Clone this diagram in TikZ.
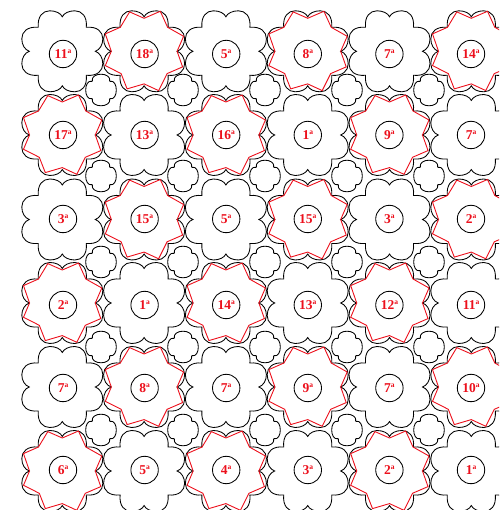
\documentclass[tikz,border=0pt]{standalone}
\usepackage{fontspec}
\setmainfont{Liberation Serif}
\newcommand{\bigflower}{
 (-24,24) .. controls (-25,35) and (-19.5,40.5) .. (-12.5,40.5) .. controls (-6.5,40.5) and (-1.5,38) .. (0,34.5)
 .. controls (1.5,38) and (6.5,40.5) .. (12.5,40.5) .. controls (19.5,40.5) and (25,35) .. (24,24)
 .. controls (35,25) and (40.5,19.5) .. (40.5,12.5) .. controls (40.5,6.5) and (37.5,1.5) .. (33,0)
 .. controls (37.5,-1.5) and (40.5,-6.5) .. (40.5,-12.5) .. controls (40.5,-19.5) and (35,-25) .. (24,-24)
 .. controls (25,-35) and (19.5,-40.5) .. (12.5,-40.5) .. controls (6.5,-40.5) and (1.5,-38) .. (0,-34.5)
 .. controls (-1.5,-38) and (-6.5,-40.5) .. (-12.5,-40.5) .. controls (-19.5,-40.5) and (-25,-35) .. (-24,-24)
 .. controls (-35,-25) and (-40.5,-19.5) .. (-40.5,-12.5) .. controls (-40.5,-6.5) and (-37.5,-1.5) .. (-33,0)
 .. controls (-37.5,1.5) and (-40.5,6.5) .. (-40.5,12.5) .. controls (-40.5,19.5) and (-35,25) .. (-24,24) -- cycle}
\newcommand{\smallflower}{
 (-8.7,8.7) .. controls (-9.8,13.2) and (-5,15.8) .. (0,15.8) .. controls (5,15.8) and (9.8,13.2) .. (8.7,8.7)
 .. controls (13.2,9.8) and (15.3,5) .. (15.3,0) .. controls (15.3,-5) and (13.2,-9.8) .. (8.7,-8.7)
 .. controls (9.8,-13.2) and (5,-15.8) .. (0,-15.8) .. controls (-5,-15.8) and (-9.8,-13.2) .. (-8.7,-8.7)
 .. controls (-13.2,-9.8) and (-15.3,-5) .. (-15.3,0) .. controls (-15.3,5) and (-13.2,9.8) .. (-8.7,8.7) -- cycle}
\newcommand{\redstar}{
 (0,33) -- (-14.5,39.4) -- (-23.8,24) -- (-38.8,17.4) -- (-32.8,0) -- (-38.8,-14.3) -- (-23,-22.3) -- (-17,-37.6)
 -- (0,-32.6) -- (14.5,-39.3) -- (23,-22.3) -- (38.5,-15.6) -- (33,0) -- (39.5,15) -- (23.5,24) -- (16.2,40) -- cycle}
\definecolor{labelred}{RGB}{236,16,28}
\tikzset{
 outline/.style={draw=black,line width=0.85pt},
 starline/.style={draw=labelred,line width=0.9pt,line join=miter},
 hub/.style={circle,draw=black,line width=0.85pt,minimum size=27.4pt,inner sep=0pt,
   text=labelred,font=\fontsize{13.5}{13.5}\selectfont\bfseries},
}
\newcommand{\sq}[1]{#1\raisebox{4.6pt}{\fontsize{7.5}{7.5}\selectfont a}}
\begin{document}
\begin{tikzpicture}[x=1pt,y=1pt]
\useasboundingbox (0,0) rectangle (499,510);
\clip (0,0) rectangle (499,510);
% small flowers
\foreach \sy in {90,176,262,347,430}{
 \foreach \sx in {101,183,265,347,429}{
  \path[outline,shift={(\sx,510-\sy)}] \smallflower;
 }
}
% big flowers with hubs
\foreach \ry/\fy/\rn/\vals in {54/51.3/1/{11,18,5,8,7,14},135/135/2/{17,13,16,1,9,7},219/219.5/3/{3,15,5,15,3,2},305/303/4/{2,1,14,13,12,11},388/387/5/{7,8,7,9,7,10},470/471/6/{6,5,4,3,2,1}}{
 \foreach \v [count=\c] in \vals {
  \pgfmathsetmacro{\cx}{63+81.6*(\c-1)}
  \pgfmathsetmacro{\fx}{62.3+81.8*(\c-1)}
  \pgfmathtruncatemacro{\parity}{mod(\c+\rn,2)}
  \path[outline,shift={(\fx,510-\fy)}] \bigflower;
  \ifnum\parity=1
   \path[starline,shift={(\fx,510-\fy)}] \redstar;
  \fi
  \node[hub] (h\rn-\c) at (\cx,510-\ry) {\sq{\v}};
 }
}
\end{tikzpicture}
\end{document}
